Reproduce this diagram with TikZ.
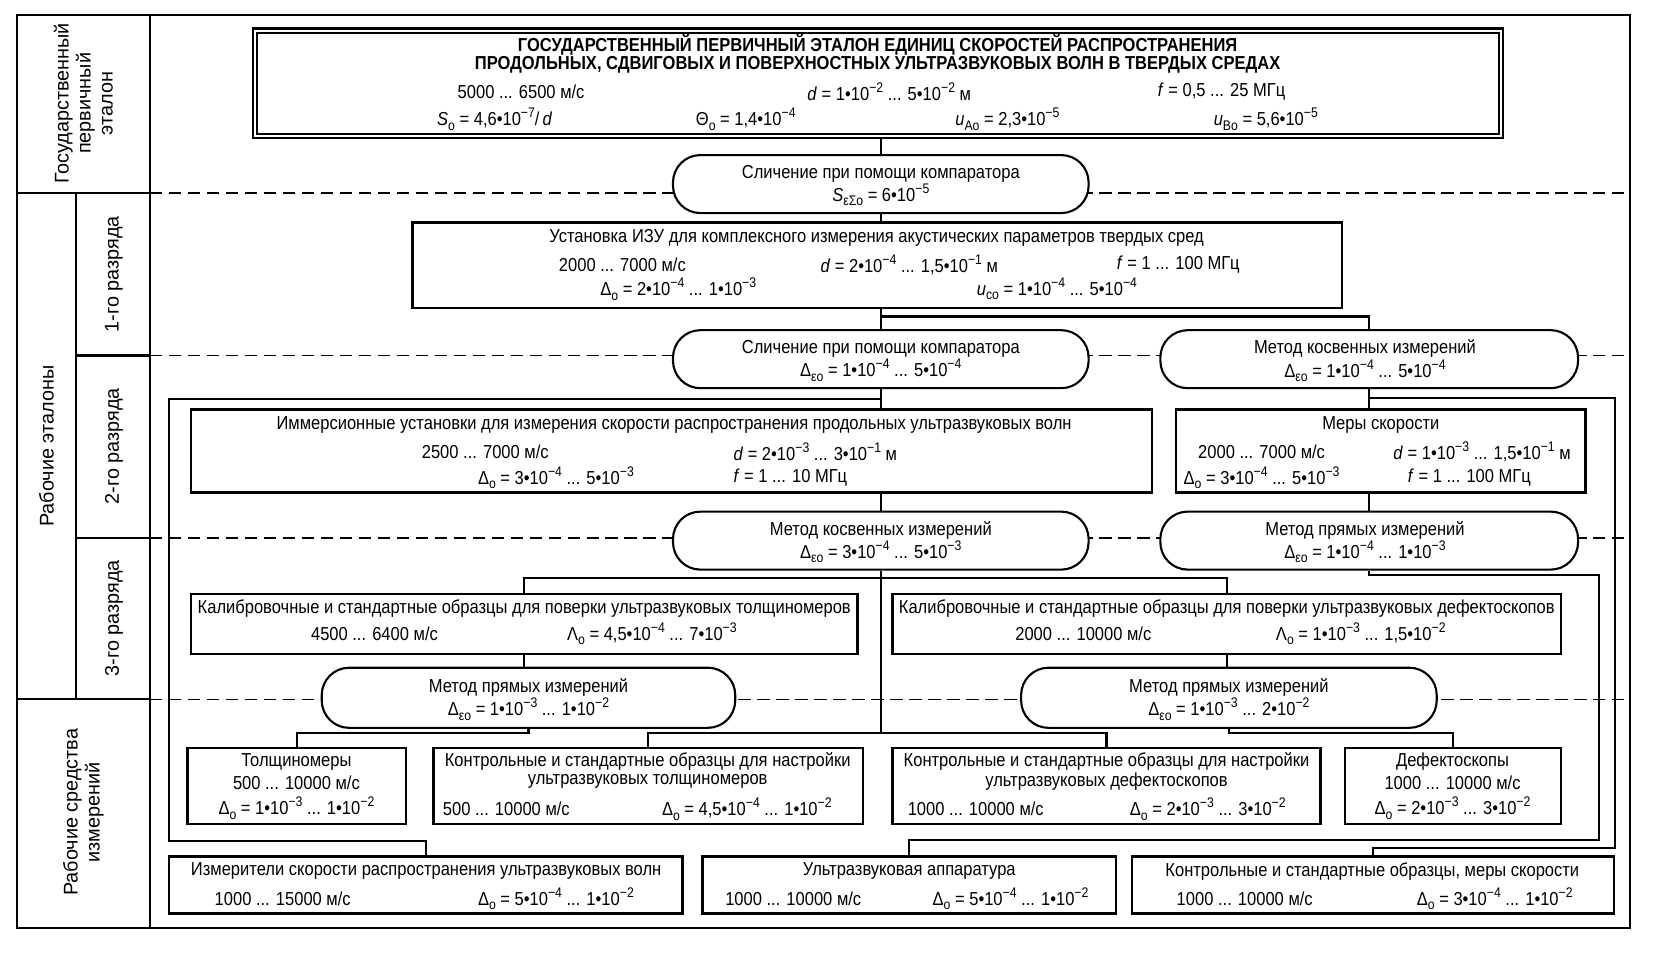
\documentclass[tikz,border=0pt]{standalone}
\usepackage{fontspec}
\setmainfont[FakeStretch=0.88]{Liberation Sans}
\newfontfamily\sidefont{Liberation Sans}
\usetikzlibrary{fit}
\newcommand{\ee}[1]{10\raisebox{0.8ex}{\fontsize{6.6}{6.6}\selectfont−#1}}
\newcommand{\sbs}[1]{\raisebox{-0.45ex}{\fontsize{6.6}{6.6}\selectfont#1}}
\newcommand{\Do}{Δ\sbs{о}}
\newcommand{\Deo}{Δ\sbs{εо}}
\begin{document}
\begin{tikzpicture}[x=0.5pt, y=-0.5pt,
  every node/.style={font=\fontsize{8.9}{11}\selectfont, inner sep=0pt},
  blk/.style={draw, line width=1.2pt, fill=white},
  meth/.style={draw, line width=1pt, fill=white, rounded corners=13pt},
  mtxt/.style={align=center},
  wire/.style={line width=1pt},
  frm/.style={line width=1pt},
  dashln/.style={line width=0.6pt, dash pattern=on 6pt off 3pt},
  side/.style={rotate=90, align=center, font={\sidefont\fontsize{9.4}{10.4}\selectfont}}]
\useasboundingbox (0,0) rectangle (1568,904);
% frame and levels
\draw[frm] (16,14) rectangle (1545,880);
\draw[frm] (142,14) -- (142,880);
\draw[frm] (16,183) -- (142,183);
\draw[frm] (16,663) -- (142,663);
\draw[frm] (72,183) -- (72,663);
\draw[frm] (72,337) -- (142,337);
\draw[frm] (72,510) -- (142,510);
\foreach \y in {183,337,510,663}
  \draw[dashln] (142,\y) -- (1545,\y);
\node[side] (lg) at (79,98) {Государственный\\первичный\\эталон};
\node[side] (lr) at (44,423) {Рабочие эталоны};
\node[side] (l1) at (108,260) {1-го разряда};
\node[side] (l2) at (108,423) {2-го разряда};
\node[side] (l3) at (108,586) {3-го разряда};
\node[side] (lw) at (79,770) {Рабочие средства\\измерений};
% primary standard
\node[draw, line width=1pt, double, double distance=1pt, fit={(242,29) (1423,129)}] (etalon) {};
\node[font=\bfseries\fontsize{8.9}{11}\selectfont] (et1) at (832,43) {ГОСУДАРСТВЕННЫЙ ПЕРВИЧНЫЙ ЭТАЛОН ЕДИНИЦ СКОРОСТЕЙ РАСПРОСТРАНЕНИЯ};
\node[font=\bfseries\fontsize{8.9}{11}\selectfont] (et2) at (832,61) {ПРОДОЛЬНЫХ, СДВИГОВЫХ И ПОВЕРХНОСТНЫХ УЛЬТРАЗВУКОВЫХ ВОЛН В ТВЕРДЫХ СРЕДАХ};
\node (et3) at (494,87) {5000 ... 6500 м/с};
\node (et4) at (843,87) {\textit{d} = 1•\ee{2} ... 5•\ee{2} м};
\node (et5) at (1158,87) {\textit{f} = 0,5 ... 25 МГц};
\node (et6) at (469,113) {\textit{S}\sbs{о} = 4,6•\ee{7}/\,\textit{d}};
\node (et7) at (707,113) {Θ\sbs{о} = 1,4•\ee{4}};
\node (et8) at (955,113) {\textit{u}\sbs{Aо} = 2,3•\ee{5}};
\node (et9) at (1200,113) {\textit{u}\sbs{Bо} = 5,6•\ee{5}};
\node[meth, fit={(638,147) (1032,202)}] (cmp1) {};
\node[mtxt] (cmp1t) at (835,176) {Сличение при помощи компаратора\\\textit{S}\sbs{εΣо} = 6•\ee{5}};
% 1st grade
\node[blk, fit={(391,211) (1272,292)}] (ust) {};
\node (us1) at (831,226) {Установка ИЗУ для комплексного измерения акустических параметров твердых сред};
\node (us2) at (590,251) {2000 ... 7000 м/с};
\node (us3) at (862,251) {\textit{d} = 2•\ee{4} ... 1,5•\ee{1} м};
\node (us4) at (1117,251) {\textit{f} = 1 ... 100 МГц};
\node (us5) at (643,274) {\Do{} = 2•\ee{4} ... 1•\ee{3}};
\node (us6) at (1002,274) {\textit{u}\sbs{cо} = 1•\ee{4} ... 5•\ee{4}};
\node[meth, fit={(638,313) (1032,368)}] (cmp2) {};
\node[mtxt] (cmp2t) at (835,342) {Сличение при помощи компаратора\\\Deo{} = 1•\ee{4} ... 5•\ee{4}};
\node[meth, fit={(1100,313) (1496,368)}] (kos2) {};
\node[mtxt] (kos2t) at (1294,342) {Метод косвенных измерений\\\Deo{} = 1•\ee{4} ... 5•\ee{4}};
% 2nd grade
\node[blk, fit={(181,388) (1092,467)}] (imm) {};
\node (im1) at (639,403) {Иммерсионные установки для измерения скорости распространения продольных ультразвуковых волн};
\node (im2) at (460,428) {2500 ... 7000 м/с};
\node[anchor=west] (im3) at (695,428) {\textit{d} = 2•\ee{3} ... 3•\ee{1} м};
\node (im4) at (527,453) {\Do{} = 3•\ee{4} ... 5•\ee{3}};
\node[anchor=west] (im5) at (695,453) {\textit{f} = 1 ... 10 МГц};
\node[blk, fit={(1115,388) (1503,467)}] (mery) {};
\node (me1) at (1309,403) {Меры скорости};
\node (me2) at (1196,428) {2000 ... 7000 м/с};
\node (me3) at (1405,428) {\textit{d} = 1•\ee{3} ... 1,5•\ee{1} м};
\node (me4) at (1196,453) {\Do{} = 3•\ee{4} ... 5•\ee{3}};
\node (me5) at (1393,453) {\textit{f} = 1 ... 100 МГц};
\node[meth, fit={(638,485) (1032,540)}] (kos3) {};
\node[mtxt] (kos3t) at (835,514) {Метод косвенных измерений\\\Deo{} = 3•\ee{4} ... 5•\ee{3}};
\node[meth, fit={(1100,485) (1496,540)}] (prm3) {};
\node[mtxt] (prm3t) at (1294,514) {Метод прямых измерений\\\Deo{} = 1•\ee{4} ... 1•\ee{3}};
% 3rd grade
\node[blk, fit={(181,563) (813,620)}] (kal1) {};
\node (ka1) at (497,577) {Калибровочные и стандартные образцы для поверки ультразвуковых толщиномеров};
\node (ka2) at (355,601) {4500 ... 6400 м/с};
\node (ka3) at (618,601) {Λ\sbs{о} = 4,5•\ee{4} ... 7•\ee{3}};
\node[blk, fit={(846,563) (1480,620)}] (kal2) {};
\node (kb1) at (1163,577) {Калибровочные и стандартные образцы для поверки ультразвуковых дефектоскопов};
\node (kb2) at (1027,601) {2000 ... 10000 м/с};
\node (kb3) at (1290,601) {Λ\sbs{о} = 1•\ee{3} ... 1,5•\ee{2}};
\node[meth, fit={(305,633) (697,690)}] (prm4a) {};
\node[mtxt] (prm4at) at (501,663) {Метод прямых измерений\\\Deo{} = 1•\ee{3} ... 1•\ee{2}};
\node[meth, fit={(968,633) (1362,690)}] (prm4b) {};
\node[mtxt] (prm4bt) at (1165,663) {Метод прямых измерений\\\Deo{} = 1•\ee{3} ... 2•\ee{2}};
% working instruments
\node[blk, fit={(178,709) (385,781)}] (tol) {};
\node (to1) at (281,722) {Толщиномеры};
\node (to2) at (281,742) {500 ... 10000 м/с};
\node (to3) at (281,766) {\Do{} = 1•\ee{3} ... 1•\ee{2}};
\node[blk, fit={(411,709) (818,781)}] (kon1) {};
\node (kc1) at (614,722) {Контрольные и стандартные образцы для настройки};
\node (kc2) at (614,741) {ультразвуковых толщиномеров};
\node (kc3) at (480,767) {500 ... 10000 м/с};
\node (kc4) at (708,767) {\Do{} = 4,5•\ee{4} ... 1•\ee{2}};
\node[blk, fit={(846,709) (1252,781)}] (kon2) {};
\node (kd1) at (1049,722) {Контрольные и стандартные образцы для настройки};
\node (kd2) at (1049,741) {ультразвуковых дефектоскопов};
\node (kd3) at (925,767) {1000 ... 10000 м/с};
\node (kd4) at (1145,767) {\Do{} = 2•\ee{3} ... 3•\ee{2}};
\node[blk, fit={(1275,709) (1480,781)}] (def) {};
\node (de1) at (1377,722) {Дефектоскопы};
\node (de2) at (1377,742) {1000 ... 10000 м/с};
\node (de3) at (1377,766) {\Do{} = 2•\ee{3} ... 3•\ee{2}};
\node[blk, fit={(160,812) (647,866)}] (izm) {};
\node (iz1) at (404,826) {Измерители скорости распространения ультразвуковых волн};
\node (iz2) at (268,852) {1000 ... 15000 м/с};
\node (iz3) at (527,852) {\Do{} = 5•\ee{4} ... 1•\ee{2}};
\node[blk, fit={(666,812) (1058,866)}] (uzp) {};
\node (uz1) at (862,826) {Ультразвуковая аппаратура};
\node (uz2) at (752,852) {1000 ... 10000 м/с};
\node (uz3) at (958,852) {\Do{} = 5•\ee{4} ... 1•\ee{2}};
\node[blk, fit={(1073,812) (1530,866)}] (kms) {};
\node (km1) at (1301,826) {Контрольные и стандартные образцы, меры скорости};
\node (km2) at (1180,852) {1000 ... 10000 м/с};
\node (km3) at (1417,852) {\Do{} = 3•\ee{4} ... 1•\ee{2}};
% links
\coordinate (s1) at (835,300);
\coordinate (s2) at (835,378);
\coordinate (c2) at (160,797);
\coordinate (s3) at (1298,377);
\coordinate (c3) at (1531,804);
\coordinate (s4) at (1298,545);
\coordinate (c4) at (1516,796);
\coordinate (s5) at (835,548);
\coordinate (s6) at (835,695);
\draw[wire] (cmp1.north |- etalon.south) -- (cmp1.north);
\draw[wire] (cmp1.south) -- (cmp1.south |- ust.north);
\draw[wire] (cmp2.north |- ust.south) -- (cmp2.north);
\draw[wire] (s1) -| (kos2.north);
\draw[wire] (cmp2.south) -- (cmp2.south |- imm.north);
\draw[wire] (s2) -| (c2) -| (izm.north);
\draw[wire] (kos2.south) -- (kos2.south |- mery.north);
\draw[wire] (s3) -| (c3) -| (kms.north);
\draw[wire] (prm3.north |- mery.south) -- (prm3.north);
\draw[wire] (prm3.south) -- (s4) -| (c4) -| (uzp.north);
\draw[wire] (kos3.north |- imm.south) -- (kos3.north);
\draw[wire] (kos3.south) -- (s6);
\draw[wire] (s5) -| (kal1.north);
\draw[wire] (s5) -| (kal2.north);
\draw[wire] (s6) -| (kon1.north);
\draw[wire] (s6) -| (kon2.north);
\draw[wire] (kal1.south) -- (kal1.south |- prm4a.north);
\draw[wire] (prm4a.south) -- (prm4a.south |- s6) -| (tol.north);
\draw[wire] (kal2.south) -- (kal2.south |- prm4b.north);
\draw[wire] (prm4b.south) -- (prm4b.south |- s6) -| (def.north);
\end{tikzpicture}
\end{document}
